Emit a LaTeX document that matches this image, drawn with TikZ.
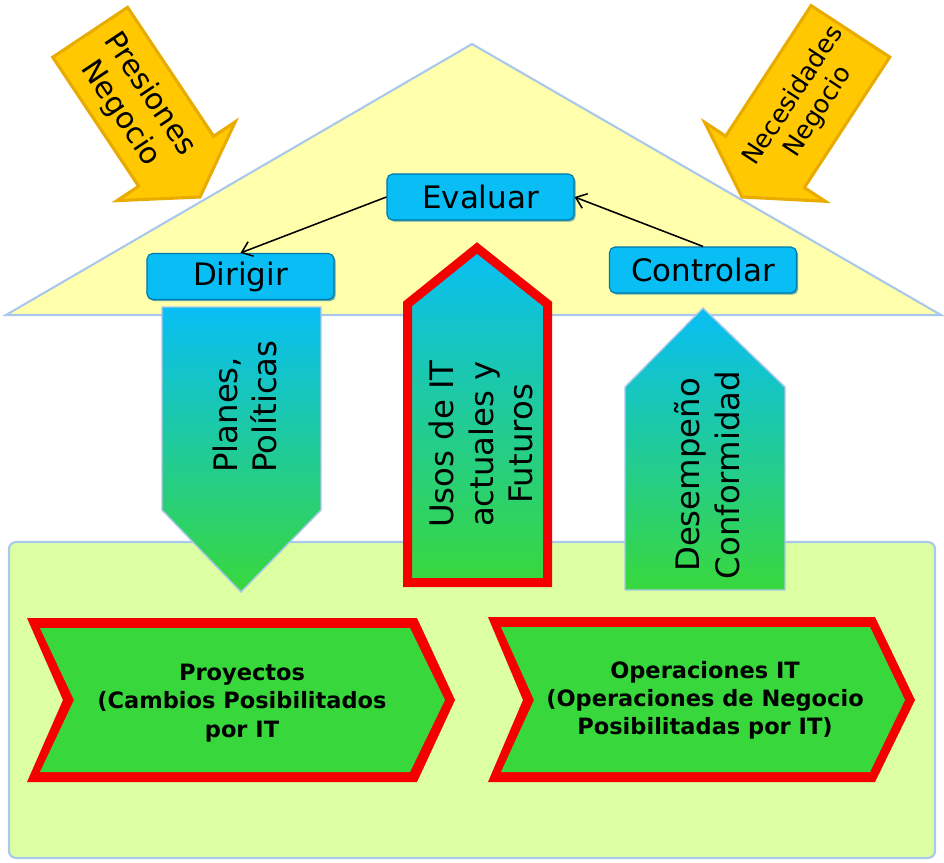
\documentclass[tikz,border=0pt]{standalone}
\usepackage{fontspec}
\setmainfont{DejaVu Sans}
\usetikzlibrary{arrows.meta,shadows}
\definecolor{roof}{RGB}{255,255,172}
\definecolor{ground}{RGB}{220,255,162}
\definecolor{glow}{RGB}{170,200,235}
\definecolor{gold}{RGB}{255,200,0}
\definecolor{golddark}{RGB}{232,172,0}
\definecolor{sky}{RGB}{8,190,245}
\definecolor{skydark}{RGB}{0,120,170}
\definecolor{leaf}{RGB}{56,216,60}
\definecolor{rim}{RGB}{245,0,0}
\tikzstyle{box}=[draw=skydark, line width=.8pt, fill=sky, rounded corners=4pt, minimum width=4.675cm, minimum height=1.15cm, font=\fontsize{22}{26}\selectfont, drop shadow={shadow xshift=1.2pt, shadow yshift=-1.2pt, fill=skydark, opacity=.6}]
\tikzstyle{pointer}=[fill=gold, draw=golddark, line width=2.2pt, line join=miter]
\tikzset{fade/.style={top color=sky, bottom color=leaf, draw=glow, line width=1pt}}
\tikzstyle{upright}=[rotate=90, align=center, inner sep=0pt, font=\fontsize{23}{28}\selectfont]
\tikzstyle{flow}=[-{Straight Barb[length=7pt,width=11pt]}, line width=1.1pt]
\tikzstyle{chevtext}=[align=center, font=\bfseries\fontsize{16}{20}\selectfont]
% block arrow along x, tip at origin: style, length, body half, head half, head length
\newcommand{\blockarrow}[5]{%
  \draw[#1] (0,0) -- (-#5,#4) -- (-#5,#3) -- (-#2,#3) -- (-#2,-#3) -- (-#5,-#3) -- (-#5,-#4) -- cycle;}

\begin{document}
\begin{tikzpicture}[x=0.025cm, y=-0.025cm]
  \useasboundingbox (0,0) rectangle (944,862);

  %% House
  \draw[fill=ground, draw=glow, line width=1.5pt, rounded corners=5pt] (9,542) rectangle (935,858);
  \draw[fill=roof, draw=glow, line width=1.5pt] (6,315) -- (472,44) -- (941,315) -- cycle;

  %% Pressures from outside
  \begin{scope}[shift={(200,197)}, rotate=-56.3]
    \blockarrow{pointer}{198}{45}{71}{43}
  \end{scope}
  \begin{scope}[shift={(742,197)}, rotate=-123.2]
    \blockarrow{pointer}{198}{47}{72}{42}
  \end{scope}
  \draw (135,104) node[rotate=-56.3, align=center, font=\fontsize{21}{25}\selectfont] (Pres) {Presiones\\Negocio};
  \draw (806,104) node[rotate=56.8, align=center, font=\fontsize{18}{21}\selectfont] (Nec) {Necesidades\\Negocio};

  %% Vertical arrows
  \draw[fade] (162,307) -- (321,307) -- (321,510) -- (241,592) -- (162,510) -- cycle;
  \draw[top color=sky, bottom color=leaf, draw=rim, line width=6.4pt, line join=miter]
    (407.5,582.5) -- (547.5,582.5) -- (547.5,304) -- (477,248) -- (407.5,304) -- cycle;
  \draw[fade] (625,590) -- (785,590) -- (785,387) -- (703,308) -- (625,387) -- cycle;

  \draw (245,473) node[upright, align=left, anchor=west] (Plan) {Planes,\\Políticas};
  \draw (481,444) node[upright] (Usos) {Usos de IT\\actuales y\\Futuros};
  \draw (707,475) node[upright] (Des) {Desempeño\\Conformidad};

  %% Governance boxes
  \draw (480.5,197) node[box] (Eval) {Evaluar};
  \draw (240.5,276.5) node[box] (Dir) {Dirigir};
  \draw (703,270) node[box] (Ctrl) {Controlar};

  \draw[flow] (Eval.west) -- (Dir.north);
  \draw[flow] (Ctrl.north) -- (Eval.east);

  %% Chevrons
  \fill[rim] (27,618) -- (417,618) -- (455,700) -- (417,782) -- (27,782) -- (63,700) -- cycle;
  \fill[leaf] (40,628) -- (410,628) -- (445,700) -- (410,772) -- (40,772) -- (74,700) -- cycle;
  \fill[rim] (488,617) -- (875,617) -- (915,700) -- (875,782) -- (488,782) -- (523,700) -- cycle;
  \fill[leaf] (501,627) -- (870,627) -- (905,700) -- (870,772) -- (501,772) -- (534,700) -- cycle;

  \draw (242,703) node[chevtext] (Proy) {Proyectos\\(Cambios Posibilitados\\por IT};
  \draw (705,700) node[chevtext] (Oper) {Operaciones IT\\(Operaciones de Negocio\\Posibilitadas por IT)};
\end{tikzpicture}
\end{document}
